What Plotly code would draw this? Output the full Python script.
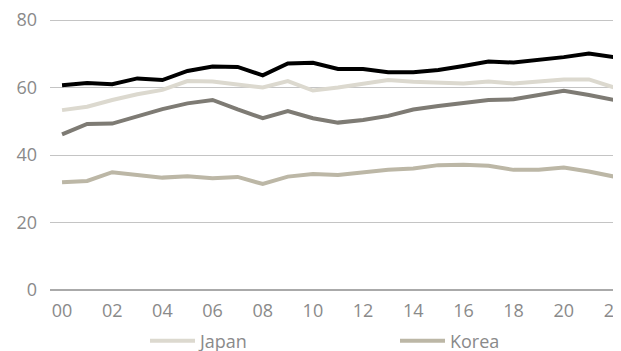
import plotly.graph_objects as go

years = list(range(2000, 2023))
tick_labels = [f"{y % 100:02d}" for y in range(2000, 2023, 2)]

series_top = [60.7, 61.3, 61.0, 62.7, 62.2, 64.9, 66.2, 66.1, 63.6, 67.1, 67.3,
              65.5, 65.5, 64.5, 64.5, 65.2, 66.4, 67.7, 67.4, 68.1, 69.0, 70.1, 69.0]
japan = [53.3, 54.3, 56.3, 58.0, 59.3, 61.9, 61.8, 61.0, 60.0, 61.9, 59.1,
         60.0, 61.0, 62.2, 61.7, 61.4, 61.2, 61.8, 61.2, 61.8, 62.4, 62.4, 60.0]
series_mid = [46.1, 49.2, 49.3, 51.6, 53.6, 55.3, 56.3, 53.5, 50.9, 53.0, 50.9,
              49.6, 50.4, 51.6, 53.5, 54.5, 55.3, 56.3, 56.5, 57.8, 59.0, 57.8, 56.3]
korea = [31.9, 32.3, 34.9, 34.2, 33.3, 33.7, 33.1, 33.5, 31.4, 33.6, 34.4,
         34.1, 34.8, 35.6, 36.0, 37.0, 37.1, 36.8, 35.6, 35.6, 36.3, 35.1, 33.6]

font = "Open Sans"
grey_text = "#8a8a8a"

# the page body has an 8px margin: the figure is shifted by 8px and its
# right/bottom edges fall outside the window, as in the source chart
W, H = 621, 351

fig = go.Figure()
fig.add_trace(go.Scatter(x=years, y=japan, name="Japan", mode="lines", legend="legend",
                         line=dict(color="#dcd9cf", width=4)))
fig.add_trace(go.Scatter(x=years, y=korea, name="Korea", mode="lines", legend="legend2",
                         line=dict(color="#bcb7a6", width=4)))
fig.add_trace(go.Scatter(x=years, y=series_mid, name="Series 3", mode="lines",
                         showlegend=False, line=dict(color="#7e7b74", width=4)))
fig.add_trace(go.Scatter(x=years, y=series_top, name="Series 4", mode="lines",
                         showlegend=False, line=dict(color="#000000", width=4)))

legend_style = dict(orientation="h", xref="container", yref="container",
                    xanchor="left", yanchor="middle", y=18 / H, itemwidth=45,
                    font=dict(size=18, color=grey_text), bgcolor="rgba(0,0,0,0)")

fig.update_layout(
    width=W, height=H,
    margin=dict(l=42, r=8, t=11, b=69, autoexpand=False),
    paper_bgcolor="white", plot_bgcolor="white",
    font=dict(family=font, size=18, color=grey_text),
    showlegend=True,
    legend=dict(legend_style, x=137 / W),
    legend2=dict(legend_style, x=387 / W),
    xaxis=dict(range=[1999.52, 2022.28], tickvals=list(range(2000, 2023, 2)),
               ticktext=tick_labels, showgrid=False, zeroline=False, automargin=False,
               showline=False, ticks="", ticklabelstandoff=8, ticklabeloverflow="allow"),
    yaxis=dict(range=[0, 80.3], tickvals=[0, 20, 40, 60, 80], showgrid=True,
               gridcolor="#c4c4c4", gridwidth=1, zeroline=True, automargin=False,
               zerolinecolor="#aaaaaa", zerolinewidth=1.5, ticks="",
               ticklabelstandoff=12, ticklabeloverflow="allow"),
)

fig.write_html("out.html")
